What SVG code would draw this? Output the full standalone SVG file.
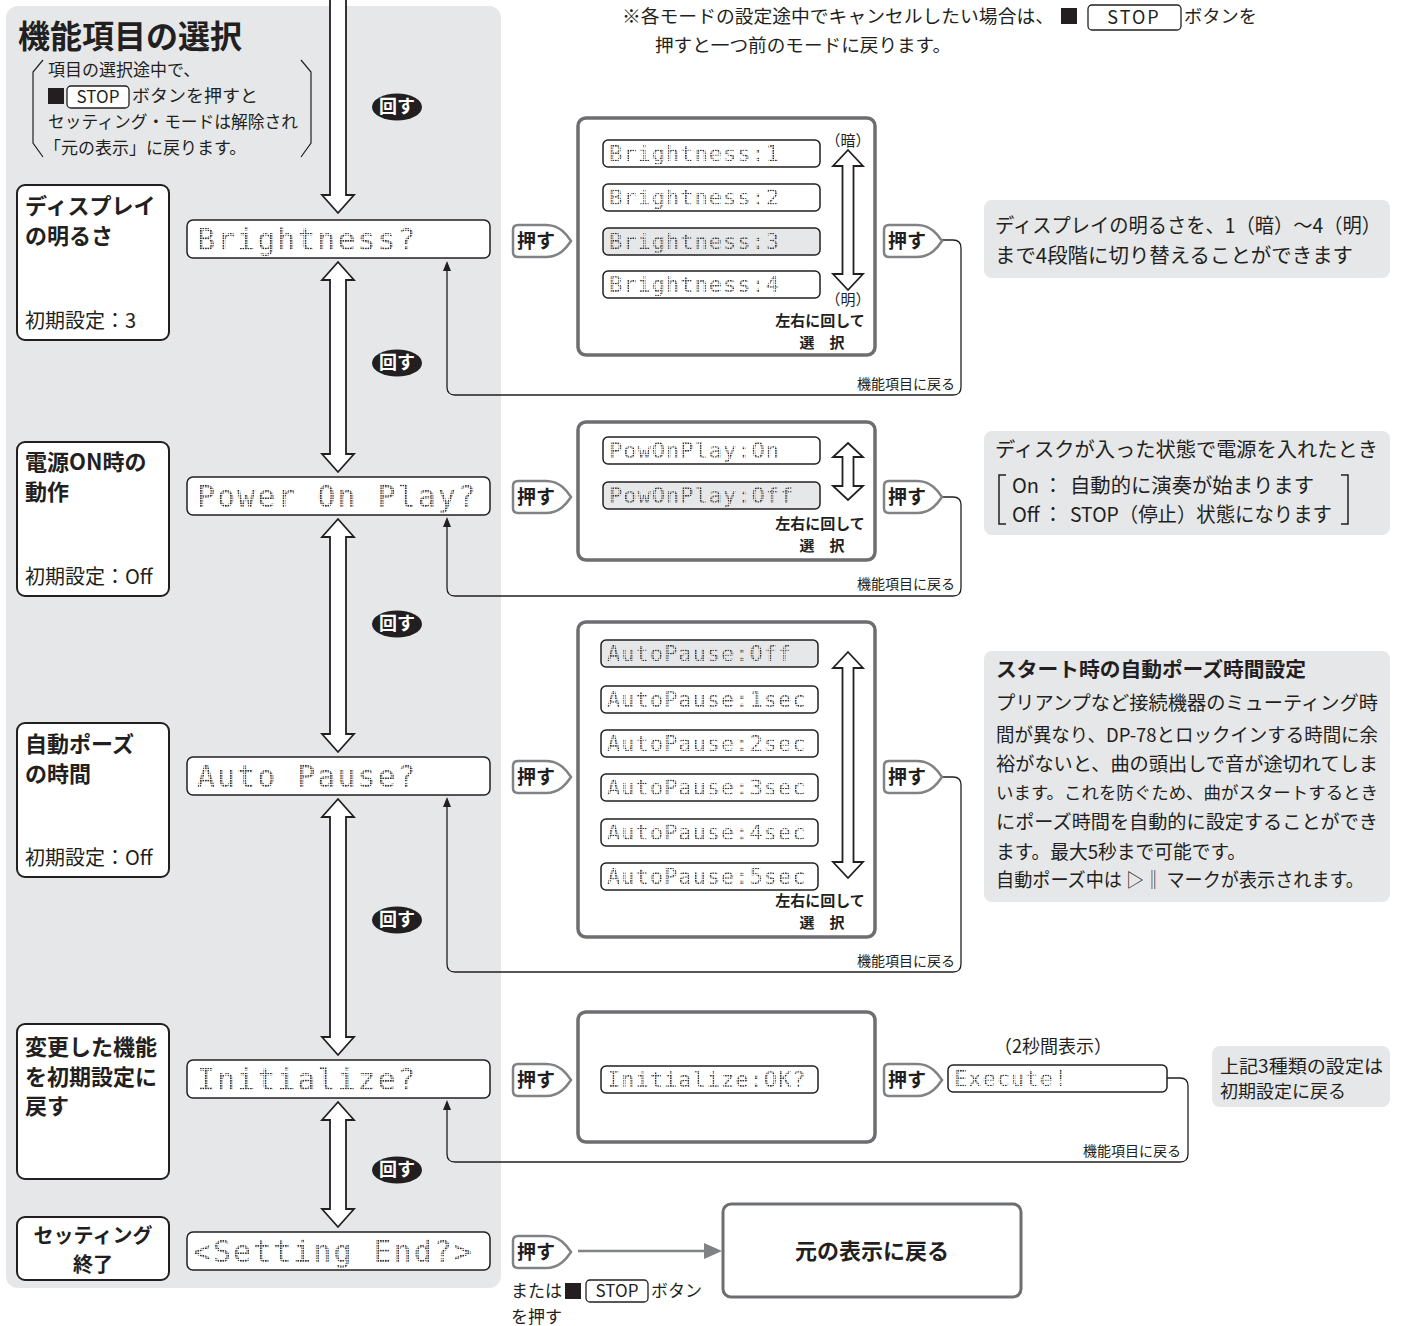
<svg xmlns="http://www.w3.org/2000/svg" width="1404" height="1326" viewBox="0 0 1404 1326">
<style>
.jp{font-family:'Noto Sans CJK JP','Noto Sans',sans-serif;fill:#231f20}
.b{font-weight:700}
.w{fill:#fff}
.lcd{font-family:'DejaVu Sans Mono','Liberation Mono',monospace;fill:url(#dots)}
.big{font-size:30px;letter-spacing:2px}
.sm{font-size:22px;letter-spacing:1px}
.node{fill:#fff;stroke:#231f20;stroke-width:2}
.lcdbox{fill:#fff;stroke:#231f20;stroke-width:1.5}
.lcdhi{fill:#e6e7e8;stroke:#231f20;stroke-width:1.5}
.panel{fill:#fff;stroke:#6d6e71;stroke-width:3.5}
.info{fill:#e6e7e8}
.conn{fill:none;stroke:#231f20;stroke-width:1.3}
.harrow{fill:#fff;stroke:#231f20;stroke-width:1.8}
.badge{fill:#fff;stroke:#808285;stroke-width:2.5}
.stop{fill:#fff;stroke:#231f20;stroke-width:1.3}
</style>
<defs>
<pattern id="dots" width="2.5" height="2.5" patternUnits="userSpaceOnUse">
<rect x="0" y="0" width="1.7" height="1.7" fill="#333333"/>
</pattern>
<path id="pushShape" d="M5,0 H33 C47,0 54,10 58,16 C54,22 47,32 33,32 H5 Q0,32 0,27 V5 Q0,0 5,0 Z"/>
</defs>

<rect x="6" y="6" width="495" height="1282" rx="12" fill="#e6e7e8"/>

<!-- top notes -->
<g id="topnote">
<text class="jp" x="622" y="23" font-size="18" textLength="432" lengthAdjust="spacingAndGlyphs">※各モードの設定途中でキャンセルしたい場合は、</text>
<rect x="1061" y="8" width="16" height="16" fill="#231f20"/>
<rect class="stop" x="1088" y="5" width="93" height="25" rx="4"/>
<text class="jp" x="1134" y="24" font-size="18" text-anchor="middle" letter-spacing="2">STOP</text>
<text class="jp" x="1184" y="23" font-size="18" textLength="73" lengthAdjust="spacingAndGlyphs">ボタンを</text>
<text class="jp" x="655" y="52" font-size="18" textLength="296" lengthAdjust="spacingAndGlyphs">押すと一つ前のモードに戻ります。</text>
</g>

<g id="title">
<text class="jp b" x="18" y="48" font-size="32">機能項目の選択</text>
<path d="M43,60 L33,72 V143 L43,157 M301,60 L311,72 V143 L301,157" fill="none" stroke="#231f20" stroke-width="1.2"/>
<text class="jp" x="48" y="76" font-size="17">項目の選択途中で、</text>
<rect x="48" y="88" width="16" height="16" fill="#231f20"/>
<rect class="stop" x="67" y="86" width="62" height="22" rx="4"/>
<text class="jp" x="98" y="103" font-size="17" text-anchor="middle">STOP</text>
<text class="jp" x="132" y="102" font-size="17" textLength="126" lengthAdjust="spacingAndGlyphs">ボタンを押すと</text>
<text class="jp" x="48" y="128" font-size="17" textLength="250" lengthAdjust="spacingAndGlyphs">セッティング・モードは解除され</text>
<text class="jp" x="44" y="154" font-size="17">「元の表示」に戻ります。</text>
</g>

<!-- connectors -->
<g id="connectors">
<path class="harrow" d="M330,-2 V195 H322 L338,213 L354,195 H346 V-2"/>
<path class="harrow" d="M338,262 L354,280 H346 V454 H354 L338,472 L322,454 H330 V280 H322 Z"/>
<path class="harrow" d="M338,519 L354,537 H346 V734 H354 L338,752 L322,734 H330 V537 H322 Z"/>
<path class="harrow" d="M338,799 L354,817 H346 V1037 H354 L338,1055 L322,1037 H330 V817 H322 Z"/>
<path class="harrow" d="M338,1102 L354,1120 H346 V1209 H354 L338,1227 L322,1209 H330 V1120 H322 Z"/>

<path class="conn" d="M942,240 H953 Q961,240 961,248 V387 Q961,395 953,395 H455 Q447,395 447,387 V268"/>
<polygon points="447,261 443,271 451,271" fill="#231f20"/>
<path class="conn" d="M942,497 H953 Q961,497 961,505 V588 Q961,596 953,596 H455 Q447,596 447,588 V524"/>
<polygon points="447,517 443,527 451,527" fill="#231f20"/>
<path class="conn" d="M942,777 H953 Q961,777 961,785 V964 Q961,972 953,972 H455 Q447,972 447,964 V804"/>
<polygon points="447,797 443,807 451,807" fill="#231f20"/>
<path class="conn" d="M1167,1078 H1180 Q1188,1078 1188,1086 V1154 Q1188,1162 1180,1162 H455 Q447,1162 447,1154 V1107"/>
<polygon points="447,1100 443,1110 451,1110" fill="#231f20"/>

<line x1="578" y1="1251" x2="706" y2="1251" stroke="#808285" stroke-width="2.5"/>
<polygon points="704,1243 722,1251 704,1259" fill="#808285"/>
</g>

<!-- 回す badges -->
<g id="turn-badges">
<ellipse cx="397" cy="107" rx="25" ry="13.5" fill="#231f20"/>
<text class="jp b w" x="397" y="113" font-size="18" text-anchor="middle">回す</text>
<ellipse cx="397" cy="363" rx="25" ry="13.5" fill="#231f20"/>
<text class="jp b w" x="397" y="369" font-size="18" text-anchor="middle">回す</text>
<ellipse cx="397" cy="624" rx="25" ry="13.5" fill="#231f20"/>
<text class="jp b w" x="397" y="630" font-size="18" text-anchor="middle">回す</text>
<ellipse cx="397" cy="920" rx="25" ry="13.5" fill="#231f20"/>
<text class="jp b w" x="397" y="926" font-size="18" text-anchor="middle">回す</text>
<ellipse cx="397" cy="1170" rx="25" ry="13.5" fill="#231f20"/>
<text class="jp b w" x="397" y="1176" font-size="18" text-anchor="middle">回す</text>
</g>

<!-- Brightness row -->
<g id="node-brightness">
<rect class="node" x="17" y="185" width="152" height="155" rx="8"/>
<text class="jp b" x="25" y="214" font-size="22">ディスプレイ</text>
<text class="jp b" x="25" y="244" font-size="22">の明るさ</text>
<text class="jp" x="25" y="328" font-size="20">初期設定：3</text>
</g>
<g id="lcd-brightness">
<rect class="lcdbox" x="187" y="220" width="303" height="38" rx="6"/>
<text class="lcd big" x="197" y="250">Brightness?</text>
</g>
<g id="push-1a">
<use href="#pushShape" x="513" y="225" class="badge"/>
<text class="jp b" x="517" y="248" font-size="19">押す</text>
</g>
<g id="panel-brightness">
<rect class="panel" x="578" y="118" width="297" height="237" rx="8"/>
<rect class="lcdbox" x="603" y="140" width="217" height="27" rx="5"/>
<text class="lcd sm" x="609" y="161">Brightness:1</text>
<rect class="lcdbox" x="603" y="184" width="217" height="27" rx="5"/>
<text class="lcd sm" x="609" y="205">Brightness:2</text>
<rect class="lcdhi" x="603" y="228" width="217" height="27" rx="5"/>
<text class="lcd sm" x="609" y="249">Brightness:3</text>
<rect class="lcdbox" x="603" y="271" width="217" height="27" rx="5"/>
<text class="lcd sm" x="609" y="292">Brightness:4</text>
<path class="harrow" d="M848,150 L863,166 H853.5 V274 H863 L848,290 L833,274 H842.5 V166 H833 Z"/>
<text class="jp" x="848" y="146" font-size="15" text-anchor="middle">（暗）</text>
<text class="jp" x="848" y="305" font-size="15" text-anchor="middle">（明）</text>
<text class="jp b" x="820" y="326" font-size="15" text-anchor="middle">左右に回して</text>
<text class="jp b" x="822" y="348" font-size="15" text-anchor="middle">選　択</text>
</g>
<g id="push-1b">
<use href="#pushShape" x="884" y="225" class="badge"/>
<text class="jp b" x="888" y="248" font-size="19">押す</text>
<text class="jp" x="955" y="389" font-size="14" text-anchor="end">機能項目に戻る</text>
</g>
<g id="info-brightness">
<rect class="info" x="984" y="200" width="406" height="78" rx="8"/>
<text class="jp" x="995" y="233" font-size="20" textLength="386" lengthAdjust="spacingAndGlyphs">ディスプレイの明るさを、1（暗）～4（明）</text>
<text class="jp" x="995" y="263" font-size="20" textLength="358" lengthAdjust="spacingAndGlyphs">まで4段階に切り替えることができます</text>
</g>

<!-- Power On Play row -->
<g id="node-power">
<rect class="node" x="17" y="442" width="152" height="154" rx="8"/>
<text class="jp b" x="25" y="470" font-size="22">電源ON時の</text>
<text class="jp b" x="25" y="500" font-size="22">動作</text>
<text class="jp" x="25" y="584" font-size="20">初期設定：Off</text>
</g>
<g id="lcd-power">
<rect class="lcdbox" x="187" y="477" width="303" height="38" rx="6"/>
<text class="lcd big" x="197" y="507">Power On Play?</text>
</g>
<g id="push-2a">
<use href="#pushShape" x="513" y="481" class="badge"/>
<text class="jp b" x="517" y="504" font-size="19">押す</text>
</g>
<g id="panel-power">
<rect class="panel" x="578" y="422" width="297" height="138" rx="8"/>
<rect class="lcdbox" x="603" y="437" width="217" height="27" rx="5"/>
<text class="lcd sm" x="609" y="458">PowOnPlay:On</text>
<rect class="lcdhi" x="603" y="482" width="217" height="27" rx="5"/>
<text class="lcd sm" x="609" y="503">PowOnPlay:Off</text>
<path class="harrow" d="M848,443 L863,457 H853.5 V486 H863 L848,500 L833,486 H842.5 V457 H833 Z"/>
<text class="jp b" x="820" y="529" font-size="15" text-anchor="middle">左右に回して</text>
<text class="jp b" x="822" y="551" font-size="15" text-anchor="middle">選　択</text>
</g>
<g id="push-2b">
<use href="#pushShape" x="884" y="481" class="badge"/>
<text class="jp b" x="888" y="504" font-size="19">押す</text>
<text class="jp" x="955" y="589" font-size="14" text-anchor="end">機能項目に戻る</text>
</g>
<g id="info-power">
<rect class="info" x="984" y="431" width="406" height="104" rx="8"/>
<text class="jp" x="995" y="457" font-size="20" textLength="383" lengthAdjust="spacingAndGlyphs">ディスクが入った状態で電源を入れたとき</text>
<path d="M1006,475 H999 V524 H1006 M1341,475 H1348 V524 H1341" fill="none" stroke="#231f20" stroke-width="1.5"/>
<text class="jp" x="1012" y="493" font-size="20">On</text>
<text class="jp" x="1043" y="493" font-size="20">：</text>
<text class="jp" x="1070" y="493" font-size="20" textLength="244" lengthAdjust="spacingAndGlyphs">自動的に演奏が始まります</text>
<text class="jp" x="1012" y="522" font-size="20">Off</text>
<text class="jp" x="1043" y="522" font-size="20">：</text>
<text class="jp" x="1070" y="522" font-size="20" textLength="262" lengthAdjust="spacingAndGlyphs">STOP（停止）状態になります</text>
</g>

<!-- Auto Pause row -->
<g id="node-autopause">
<rect class="node" x="17" y="723" width="152" height="154" rx="8"/>
<text class="jp b" x="25" y="752" font-size="22">自動ポーズ</text>
<text class="jp b" x="25" y="782" font-size="22">の時間</text>
<text class="jp" x="25" y="865" font-size="20">初期設定：Off</text>
</g>
<g id="lcd-autopause">
<rect class="lcdbox" x="187" y="757" width="303" height="38" rx="6"/>
<text class="lcd big" x="197" y="787">Auto Pause?</text>
</g>
<g id="push-3a">
<use href="#pushShape" x="513" y="761" class="badge"/>
<text class="jp b" x="517" y="784" font-size="19">押す</text>
</g>
<g id="panel-autopause">
<rect class="panel" x="578" y="622" width="297" height="315" rx="8"/>
<rect class="lcdhi" x="601" y="640" width="217" height="27" rx="5"/>
<text class="lcd sm" x="607" y="661">AutoPause:Off</text>
<rect class="lcdbox" x="601" y="686" width="217" height="27" rx="5"/>
<text class="lcd sm" x="607" y="707">AutoPause:1sec</text>
<rect class="lcdbox" x="601" y="730" width="217" height="27" rx="5"/>
<text class="lcd sm" x="607" y="751">AutoPause:2sec</text>
<rect class="lcdbox" x="601" y="774" width="217" height="27" rx="5"/>
<text class="lcd sm" x="607" y="795">AutoPause:3sec</text>
<rect class="lcdbox" x="601" y="819" width="217" height="27" rx="5"/>
<text class="lcd sm" x="607" y="840">AutoPause:4sec</text>
<rect class="lcdbox" x="601" y="863" width="217" height="27" rx="5"/>
<text class="lcd sm" x="607" y="884">AutoPause:5sec</text>
<path class="harrow" d="M848,652 L863,668 H853.5 V862 H863 L848,878 L833,862 H842.5 V668 H833 Z"/>
<text class="jp b" x="820" y="906" font-size="15" text-anchor="middle">左右に回して</text>
<text class="jp b" x="822" y="928" font-size="15" text-anchor="middle">選　択</text>
</g>
<g id="push-3b">
<use href="#pushShape" x="884" y="761" class="badge"/>
<text class="jp b" x="888" y="784" font-size="19">押す</text>
<text class="jp" x="955" y="966" font-size="14" text-anchor="end">機能項目に戻る</text>
</g>
<g id="info-autopause">
<rect class="info" x="984" y="651" width="406" height="251" rx="8"/>
<text class="jp b" x="996" y="677" font-size="20" textLength="310" lengthAdjust="spacingAndGlyphs">スタート時の自動ポーズ時間設定</text>
<text class="jp" x="996" y="710" font-size="19" textLength="382" lengthAdjust="spacingAndGlyphs">プリアンプなど接続機器のミューティング時</text>
<text class="jp" x="996" y="742" font-size="19" textLength="382" lengthAdjust="spacingAndGlyphs">間が異なり、DP-78とロックインする時間に余</text>
<text class="jp" x="996" y="771" font-size="19" textLength="382" lengthAdjust="spacingAndGlyphs">裕がないと、曲の頭出しで音が途切れてしま</text>
<text class="jp" x="996" y="799" font-size="17" textLength="382" lengthAdjust="spacingAndGlyphs">います。これを防ぐため、曲がスタートするとき</text>
<text class="jp" x="996" y="829" font-size="19" textLength="382" lengthAdjust="spacingAndGlyphs">にポーズ時間を自動的に設定することができ</text>
<text class="jp" x="996" y="859" font-size="19" textLength="250" lengthAdjust="spacingAndGlyphs">ます。最大5秒まで可能です。</text>
<text class="jp" x="996" y="887" font-size="19" textLength="368" lengthAdjust="spacingAndGlyphs">自動ポーズ中は ▷‖ マークが表示されます。</text>
</g>

<!-- Initialize row -->
<g id="node-initialize">
<rect class="node" x="17" y="1024" width="152" height="155" rx="8"/>
<text class="jp b" x="25" y="1055" font-size="22">変更した機能</text>
<text class="jp b" x="25" y="1085" font-size="22">を初期設定に</text>
<text class="jp b" x="25" y="1114" font-size="22">戻す</text>
</g>
<g id="lcd-initialize">
<rect class="lcdbox" x="187" y="1060" width="303" height="38" rx="6"/>
<text class="lcd big" x="197" y="1090">Initialize?</text>
</g>
<g id="push-4a">
<use href="#pushShape" x="513" y="1064" class="badge"/>
<text class="jp b" x="517" y="1087" font-size="19">押す</text>
</g>
<g id="panel-initialize">
<rect class="panel" x="578" y="1012" width="297" height="130" rx="8"/>
<rect class="lcdbox" x="601" y="1066" width="217" height="27" rx="5"/>
<text class="lcd sm" x="607" y="1087">Initialize:OK?</text>
</g>
<g id="push-4b">
<use href="#pushShape" x="884" y="1064" class="badge"/>
<text class="jp b" x="888" y="1087" font-size="19">押す</text>
</g>
<g id="execute">
<text class="jp" x="1053" y="1053" font-size="18" text-anchor="middle">（2秒間表示）</text>
<rect class="lcdbox" x="948" y="1065" width="219" height="27" rx="5"/>
<text class="lcd sm" x="954" y="1086">Execute!</text>
<text class="jp" x="1181" y="1156" font-size="14" text-anchor="end">機能項目に戻る</text>
</g>
<g id="info-initialize">
<rect class="info" x="1212" y="1046" width="178" height="61" rx="8"/>
<text class="jp" x="1220" y="1073" font-size="18" textLength="163" lengthAdjust="spacingAndGlyphs">上記3種類の設定は</text>
<text class="jp" x="1220" y="1098" font-size="18">初期設定に戻る</text>
</g>

<!-- Setting End row -->
<g id="node-settingend">
<rect class="node" x="17" y="1217" width="152" height="63" rx="8"/>
<text class="jp b" x="93" y="1243" font-size="20" text-anchor="middle">セッティング</text>
<text class="jp b" x="93" y="1272" font-size="20" text-anchor="middle">終了</text>
</g>
<g id="lcd-settingend">
<rect class="lcdbox" x="187" y="1232" width="303" height="38" rx="6"/>
<text class="lcd big" x="193" y="1262">&lt;Setting End?&gt;</text>
</g>
<g id="push-5">
<use href="#pushShape" x="513" y="1236" class="badge"/>
<text class="jp b" x="517" y="1259" font-size="19">押す</text>
<text class="jp" x="511" y="1297" font-size="17">または</text>
<rect x="565" y="1283" width="16" height="16" fill="#231f20"/>
<rect class="stop" x="586" y="1280" width="62" height="22" rx="4"/>
<text class="jp" x="617" y="1297" font-size="17" text-anchor="middle">STOP</text>
<text class="jp" x="651" y="1297" font-size="17">ボタン</text>
<text class="jp" x="511" y="1323" font-size="17">を押す</text>
</g>
<g id="node-return">
<rect x="723" y="1204" width="298" height="93" rx="8" fill="#fff" stroke="#6d6e71" stroke-width="3"/>
<text class="jp b" x="872" y="1259" font-size="22" text-anchor="middle">元の表示に戻る</text>
</g>
</svg>
